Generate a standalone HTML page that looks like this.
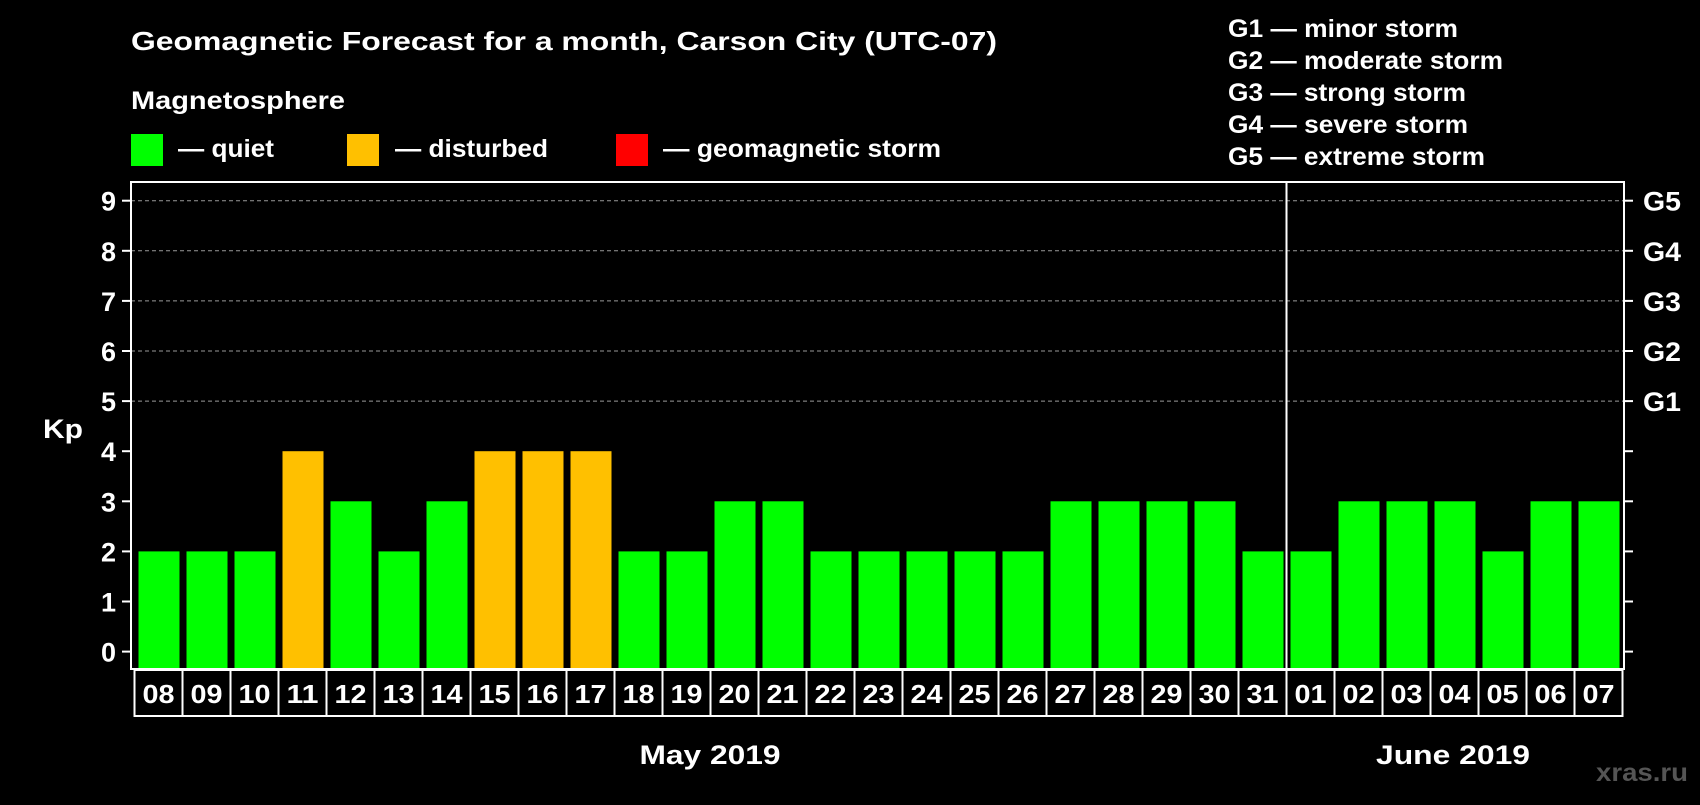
<!DOCTYPE html>
<html><head><meta charset="utf-8"><style>
body{margin:0;background:#000;width:1700px;height:800px;overflow:hidden}
svg text{font-family:"Liberation Sans",Arial,sans-serif;font-weight:bold;fill:#fff}
</style></head><body>
<svg id="c" width="1700" height="800" xmlns="http://www.w3.org/2000/svg">
<text x="131" y="50" font-size="26" textLength="866" lengthAdjust="spacingAndGlyphs">Geomagnetic Forecast for a month, Carson City (UTC-07)</text>
<text x="131" y="109" font-size="25" textLength="214" lengthAdjust="spacingAndGlyphs">Magnetosphere</text>
<rect x="131" y="134" width="32" height="32" fill="#00ff00"/>
<text x="178" y="157" font-size="25" textLength="96" lengthAdjust="spacingAndGlyphs">— quiet</text>
<rect x="347" y="134" width="32" height="32" fill="#ffc000"/>
<text x="395" y="157" font-size="25" textLength="153" lengthAdjust="spacingAndGlyphs">— disturbed</text>
<rect x="616" y="134" width="32" height="32" fill="#ff0000"/>
<text x="663" y="157" font-size="25" textLength="278" lengthAdjust="spacingAndGlyphs">— geomagnetic storm</text>
<g font-size="25">
<text x="1228" y="37" textLength="230" lengthAdjust="spacingAndGlyphs">G1 — minor storm</text>
<text x="1228" y="69" textLength="275" lengthAdjust="spacingAndGlyphs">G2 — moderate storm</text>
<text x="1228" y="101" textLength="238" lengthAdjust="spacingAndGlyphs">G3 — strong storm</text>
<text x="1228" y="133" textLength="240" lengthAdjust="spacingAndGlyphs">G4 — severe storm</text>
<text x="1228" y="165" textLength="257" lengthAdjust="spacingAndGlyphs">G5 — extreme storm</text>
</g>
<text x="43" y="438" font-size="27" textLength="40" lengthAdjust="spacingAndGlyphs">Kp</text>
<g id="grid"></g><g id="bars"></g><g id="axes"></g>
<text x="710" y="764" font-size="27" text-anchor="middle" textLength="141" lengthAdjust="spacingAndGlyphs">May 2019</text>
<text x="1453" y="764" font-size="27" text-anchor="middle" textLength="154" lengthAdjust="spacingAndGlyphs">June 2019</text>
<text x="1596" y="781" font-size="25" textLength="92" lengthAdjust="spacingAndGlyphs" style="fill:#555">xras.ru</text>
</svg>
<script>
const days=["08","09","10","11","12","13","14","15","16","17","18","19","20","21","22","23","24","25","26","27","28","29","30","31","01","02","03","04","05","06","07"];
const kpValues=[2,2,2,4,3,2,3,4,4,4,2,2,3,3,2,2,2,2,2,3,3,3,3,2,2,3,3,3,2,3,3];
const yTicks=[0,1,2,3,4,5,6,7,8,9];
const gLabels=["G1","G2","G3","G4","G5"];
const NS="http://www.w3.org/2000/svg";
const L=131,R=1624,T=182,B=669,X0=134.5,STEP=48;
const y=v=>651.6-v*50.1, x=i=>X0+i*STEP;
function mk(t,a,p,txt){const e=document.createElementNS(NS,t);for(const k in a)e.setAttribute(k,a[k]);if(txt!==undefined)e.textContent=txt;p.appendChild(e);return e;}
const grid=document.getElementById('grid'),bars=document.getElementById('bars'),axes=document.getElementById('axes');
yTicks.forEach(v=>{
 if(v>=5){const g=mk('line',{x1:L,x2:R,y1:y(v),y2:y(v),stroke:'#999','stroke-dasharray':'4,3','stroke-width':1},grid);
 
 }
 const t=mk('line',{x1:L-9,x2:L,y1:y(v),y2:y(v),stroke:'#fff','stroke-width':2},axes);
 
 
 const lb=mk('text',{x:116,y:y(v)+10,'font-size':27,'text-anchor':'end'},axes,String(v));
 
 
 const rt=mk('line',{x1:R,x2:R+9,y1:y(v),y2:y(v),stroke:'#fff','stroke-width':2},axes);
 
 
});
gLabels.forEach((g,i)=>{
 const t=mk('text',{x:1643,y:y(i+5)+10,'font-size':27,textLength:38,lengthAdjust:'spacingAndGlyphs'},axes,g);
 
 
});
kpValues.forEach((v,i)=>{
 const c=v>=5?'#ff0000':(v>=4?'#ffc000':'#00ff00');
 const b=mk('rect',{x:x(i)+4,y:y(v),width:41,height:B-y(v),fill:c},bars);
 
 
 const cell=mk('rect',{x:x(i),y:B+1,width:STEP,height:46,fill:'none',stroke:'#fff','stroke-width':2},axes);
 
 
 const t=mk('text',{x:x(i)+STEP/2,y:B+34,'font-size':26,'text-anchor':'middle',textLength:32,lengthAdjust:'spacingAndGlyphs'},axes,days[i]);
 
 
});
const f=mk('rect',{x:L,y:T,width:R-L,height:B-T,fill:'none',stroke:'#fff','stroke-width':2},axes);


const sepIdx=days.indexOf("01");
const s=mk('line',{x1:x(sepIdx),x2:x(sepIdx),y1:T,y2:B,stroke:'#fff','stroke-width':2},axes);


</script>
</body></html>
